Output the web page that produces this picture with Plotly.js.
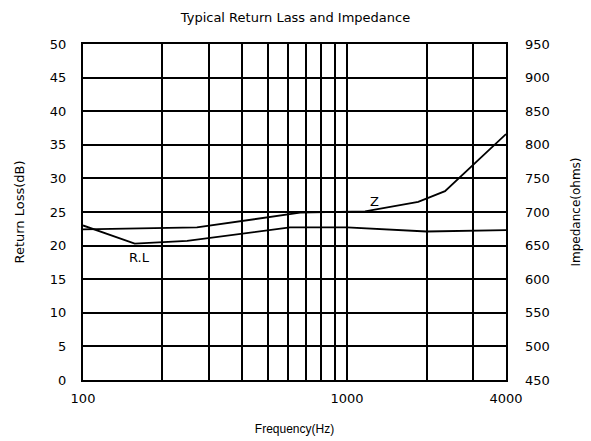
<!DOCTYPE html>
<html>
<head>
<meta charset="utf-8">
<script src="https://cdn.plot.ly/plotly-3.0.1.min.js"></script>
<style>html,body{margin:0;padding:0;background:#fff;}#chart{width:591px;height:441px;}</style>
</head>
<body>
<div id="chart"></div>
<script>
// Return loss (dB), left axis
const rlFreq = [100, 157, 248, 608, 1000, 2000, 4000];
const rlValues = [23.0, 20.3, 20.7, 22.7, 22.7, 22.1, 22.3];
// Impedance (ohms), right axis
const zFreq = [100, 270, 664, 1000, 1170, 1860, 2350, 4000];
const zValues = [674, 677, 699, 700, 701, 715, 731, 816];

const xGridVals = [100, 200, 300, 400, 500, 600, 700, 800, 900, 1000, 2000, 3000, 4000];
const xTickText = ['100', '', '', '', '', '', '', '', '', '1000', '', '', '4000'];
const yLeftTicks = [0, 5, 10, 15, 20, 25, 30, 35, 40, 45, 50];
const yRightTicks = [450, 500, 550, 600, 650, 700, 750, 800, 850, 900, 950];

const cadFont = {family: 'DejaVu Sans', size: 13, color: '#000'};

const traces = [
  {x: rlFreq, y: rlValues, type: 'scatter', mode: 'lines', line: {color: '#000', width: 1.8}, yaxis: 'y', showlegend: false},
  {x: zFreq, y: zValues, type: 'scatter', mode: 'lines', line: {color: '#000', width: 1.8}, yaxis: 'y2', showlegend: false}
];

const layout = {
  width: 591, height: 441,
  margin: {l: 83, r: 85, t: 44, b: 61},
  paper_bgcolor: '#fff', plot_bgcolor: '#fff',
  title: {text: 'Typical Return Lass and Impedance', font: {family: 'DejaVu Sans', size: 13, color: '#000'}, x: 0.5, xanchor: 'center', y: 0.96, yanchor: 'middle'},
  xaxis: {
    type: 'log', range: [2, Math.log10(4000)],
    tickmode: 'array', tickvals: xGridVals, ticktext: xTickText,
    showgrid: true, gridcolor: '#000', gridwidth: 2,
    showline: true, linecolor: '#000', linewidth: 2, mirror: true,
    ticks: '', tickfont: cadFont, zeroline: false, ticklabelstandoff: 5,
    title: {text: 'Frequency(Hz)', font: {family: 'Liberation Sans', size: 12, color: '#000'}, standoff: 20}
  },
  yaxis: {
    range: [0, 50], tickmode: 'array', tickvals: yLeftTicks,
    showgrid: true, gridcolor: '#000', gridwidth: 2,
    showline: true, linecolor: '#000', linewidth: 2, mirror: true,
    ticks: '', tickfont: cadFont, zeroline: false, ticklabelstandoff: 12,
    title: {text: 'Return Loss(dB)', font: cadFont, standoff: 22}
  },
  yaxis2: {
    range: [450, 950], tickmode: 'array', tickvals: yRightTicks,
    overlaying: 'y', side: 'right', showgrid: false, zeroline: false,
    ticks: '', tickfont: cadFont, ticklabelstandoff: 18,
    title: {text: 'Impedance(ohms)', font: {family: 'DejaVu Sans', size: 12, color: '#000'}, standoff: 22}
  },
  annotations: [
    {x: Math.log10(1270), y: 26.6, xref: 'x', yref: 'y', text: 'Z', showarrow: false, font: cadFont},
    {x: Math.log10(164), y: 18.3, xref: 'x', yref: 'y', text: 'R.L', showarrow: false, font: cadFont}
  ]
};

Plotly.newPlot('chart', traces, layout, {displayModeBar: false, staticPlot: true});
</script>
</body>
</html>
